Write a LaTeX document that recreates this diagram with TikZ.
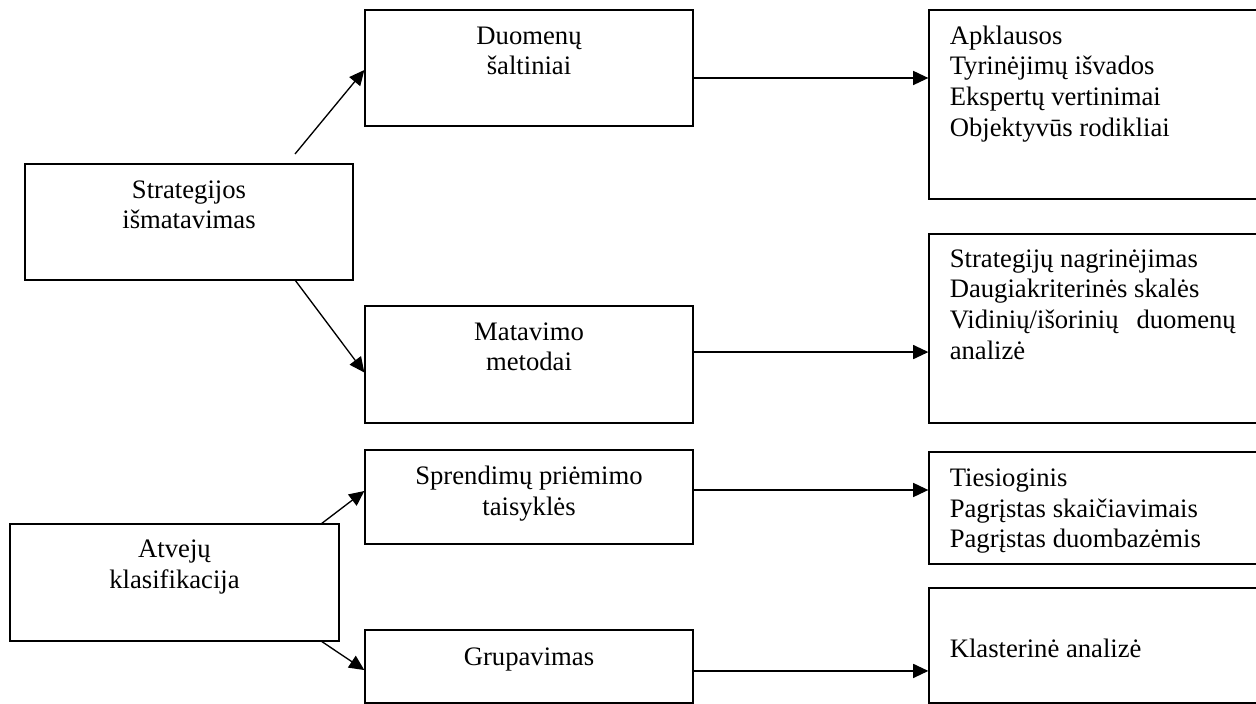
\documentclass[tikz,border=0pt]{standalone}
\usepackage{fontspec}
\setmainfont{Liberation Serif}
\usetikzlibrary{arrows.meta}

\begin{document}
\begin{tikzpicture}[x=0.45pt,y=-0.45pt]
		\begin{scope}[scale=1]
		
		\tikzstyle{mybox}=[rectangle,
		draw=black,
		line width=0.6pt,
		inner sep=0pt,
		minimum width=147.6pt
		]
		\tikzstyle{mytext}=[inner sep=0pt,
		font=\fontsize{12}{13.8}\selectfont
		]
		\tikzstyle{myarrow}=[line width=0.6pt,
		-{Triangle[length=6.8pt,width=6.3pt]}
		]
		
		\useasboundingbox (0,0) rectangle (1256,704);
		
		\coordinate (pstrat) at (189, 222);
		\coordinate (pduom) at (529, 68);
		\coordinate (pmat) at (529, 364.5);
		\coordinate (papk) at (1095.5, 104.5);
		\coordinate (pnagr) at (1095.5, 328.5);
		\coordinate (patv) at (174.5, 582.5);
		\coordinate (pspr) at (529, 497);
		\coordinate (pgrp) at (529, 666.5);
		\coordinate (ptie) at (1095.5, 508);
		\coordinate (pkla) at (1095.5, 645.5);
		
		\coordinate (s1) at (295, 154);
		\coordinate (s2) at (295, 280);
		\coordinate (s3) at (321, 524);
		\coordinate (s4) at (321, 641);
		
		\node[mybox, minimum height=52.2pt] (strat) at (pstrat) {};
		\node[mybox, minimum height=52.2pt] (duom) at (pduom) {};
		\node[mybox, minimum height=52.65pt] (mat) at (pmat) {};
		\node[mybox, minimum width=149.85pt, minimum height=85.05pt] (apk) at (papk) {};
		\node[mybox, minimum width=149.85pt, minimum height=85.05pt] (nagr) at (pnagr) {};
		\node[mybox, minimum width=148.05pt, minimum height=52.65pt] (atv) at (patv) {};
		\node[mybox, minimum height=42.3pt] (spr) at (pspr) {};
		\node[mybox, minimum height=32.85pt] (grp) at (pgrp) {};
		\node[mybox, minimum width=149.85pt, minimum height=50.4pt] (tie) at (ptie) {};
		\node[mybox, minimum width=149.85pt, minimum height=51.75pt] (kla) at (pkla) {};
		
		% base anchor sits on the last line
		\node[mytext, anchor=base, align=center] (strat-t) at ([yshift=-29.55pt]strat.north) {Strategijos\\išmatavimas};
		\node[mytext, anchor=base, align=center] (duom-t) at ([yshift=-29.55pt]duom.north) {Duomenų\\šaltiniai};
		\node[mytext, anchor=base, align=center] (mat-t) at ([yshift=-29.55pt]mat.north) {Matavimo\\metodai};
		\node[mytext, anchor=base, align=center] (atv-t) at ([yshift=-29.1pt]atv.north) {Atvejų\\klasifikacija};
		\node[mytext, anchor=base, align=center] (spr-t) at ([yshift=-29.55pt]spr.north) {Sprendimų priėmimo\\taisyklės};
		\node[mytext, anchor=base, align=center] (grp-t) at ([yshift=-16.2pt]grp.north) {Grupavimas};
		
		\node[mytext, anchor=base west, align=left] (apk-t) at ([xshift=9.45pt, yshift=-57.15pt]apk.north west) {Apklausos\\Tyrinėjimų išvados\\Ekspertų vertinimai\\Objektyvūs rodikliai};
		\node[mytext, anchor=base west, align=left] (nagr-t) at ([xshift=9.45pt, yshift=-56.7pt]nagr.north west) {Strategijų nagrinėjimas\\Daugiakriterinės skalės\\\makebox[128.7pt][s]{Vidinių/išorinių duomenų}\\analizė};
		\node[mytext, anchor=base west, align=left] (tie-t) at ([xshift=9.45pt, yshift=-43.35pt]tie.north west) {Tiesioginis\\Pagrįstas skaičiavimais\\Pagrįstas duombazėmis};
		\node[mytext, anchor=base west, align=left] (kla-t) at ([xshift=9.45pt, yshift=-31.5pt]kla.north west) {Klasterinė analizė};
		
		\draw[myarrow] (s1) -- ([yshift=-0.9pt]duom.west);
		\draw[myarrow] (s2) -- ([yshift=-3.6pt]mat.west);
		\draw[myarrow] (s3) -- ([yshift=2.7pt]spr.west);
		\draw[myarrow] (s4) -- ([yshift=-1.6pt]grp.west);
		
		\draw[myarrow] ([yshift=-4.5pt]duom.east) -- ([yshift=-4.5pt]duom.east -| apk.west);
		\draw[myarrow] ([yshift=5.6pt]mat.east) -- ([yshift=5.6pt]mat.east -| nagr.west);
		\draw[myarrow] ([yshift=3.15pt]spr.east) -- ([yshift=3.15pt]spr.east -| tie.west);
		\draw[myarrow] ([yshift=-2pt]grp.east) -- ([yshift=-2pt]grp.east -| kla.west);
		
		\end{scope}
\end{tikzpicture}
\end{document}
